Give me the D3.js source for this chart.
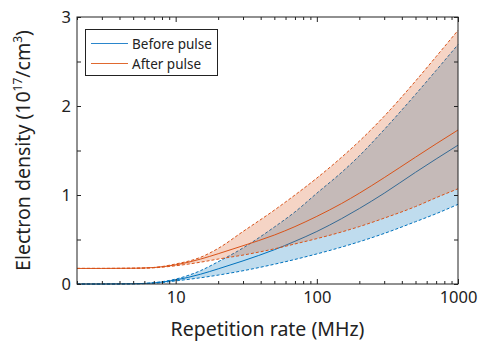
<!DOCTYPE html>
<html>
<head>
<meta charset="utf-8">
<script src="https://cdn.jsdelivr.net/npm/d3@7"></script>
<style>
  body { margin: 0; background: #fff; }
  svg text { font-family: "Noto Sans", "Open Sans", sans-serif; fill: #222; }
</style>
</head>
<body>
<div id="chart"></div>
<script>
// repetition rate (MHz)
const freq = [2, 3, 5, 7, 10, 15, 20, 30, 50, 70, 100, 150, 200, 300, 500, 700, 1000];

// electron density (1e17 / cm^3), before pulse
const beforeMid  = [0, 0, 0.003, 0.012, 0.045, 0.11, 0.17, 0.26, 0.385, 0.48, 0.59, 0.735, 0.848, 1.02, 1.255, 1.405, 1.56];
const beforeHigh = [0, 0, 0.003, 0.015, 0.055, 0.15, 0.25, 0.405, 0.64, 0.81, 1.02, 1.255, 1.44, 1.735, 2.13, 2.40, 2.69];
const beforeLow  = [0, 0, 0.002, 0.008, 0.035, 0.07, 0.10, 0.149, 0.222, 0.276, 0.338, 0.415, 0.475, 0.568, 0.70, 0.79, 0.895];

// after pulse
const afterMid  = [0.175, 0.175, 0.177, 0.185, 0.215, 0.28, 0.34, 0.43, 0.55, 0.645, 0.76, 0.905, 1.02, 1.195, 1.425, 1.575, 1.73];
const afterHigh = [0.175, 0.175, 0.178, 0.186, 0.225, 0.30, 0.40, 0.59, 0.83, 1.0, 1.19, 1.425, 1.605, 1.885, 2.28, 2.555, 2.85];
const afterLow  = [0.175, 0.175, 0.176, 0.182, 0.205, 0.245, 0.28, 0.325, 0.395, 0.45, 0.51, 0.585, 0.645, 0.74, 0.87, 0.97, 1.07];

const xTicks = [10, 100, 1000];
const yTicks = [0, 0.5, 1, 1.5, 2, 2.5, 3];
const yLabels = [0, 1, 2, 3];

const width = 478, height = 342;
const margin = {top: 17, right: 20, bottom: 58, left: 77};
const blue = '#0072BD', orange = '#D95319';

const svg = d3.select('#chart').append('svg')
  .attr('width', width).attr('height', height);

const x = d3.scaleLog().domain([2, 1000]).range([margin.left, width - margin.right]);
const y = d3.scaleLinear().domain([0, 3]).range([height - margin.bottom, margin.top]);

const rows = (a, b) => freq.map((f, i) => [f, a[i], b ? b[i] : 0]);

const line = d3.line().x(d => x(d[0])).y(d => y(d[1])).curve(d3.curveMonotoneX);
const area = d3.area().x(d => x(d[0])).y0(d => y(d[2])).y1(d => y(d[1])).curve(d3.curveMonotoneX);

const plot = svg.append('g');

// before pulse band + lines
plot.append('path').datum(rows(beforeHigh, beforeLow))
  .attr('d', area).attr('fill', blue).attr('fill-opacity', 0.25);
[beforeHigh, beforeLow].forEach(s => {
  plot.append('path').datum(rows(s)).attr('d', line)
    .attr('fill', 'none').attr('stroke', blue).attr('stroke-width', 1)
    .attr('stroke-dasharray', '3,2');
});
plot.append('path').datum(rows(beforeMid)).attr('d', line)
  .attr('fill', 'none').attr('stroke', blue).attr('stroke-width', 1);

// after pulse band + lines
plot.append('path').datum(rows(afterHigh, afterLow))
  .attr('d', area).attr('fill', orange).attr('fill-opacity', 0.25);
[afterHigh, afterLow].forEach(s => {
  plot.append('path').datum(rows(s)).attr('d', line)
    .attr('fill', 'none').attr('stroke', orange).attr('stroke-width', 1)
    .attr('stroke-dasharray', '3,2');
});
plot.append('path').datum(rows(afterMid)).attr('d', line)
  .attr('fill', 'none').attr('stroke', orange).attr('stroke-width', 1);

// axes, ticks pointing inward
const x0 = margin.left, x1 = width - margin.right;
const y0 = height - margin.bottom, y1 = margin.top;

const minorX = x.ticks().filter(t => !xTicks.includes(t));

svg.append('g').attr('transform', `translate(0,${y0})`)
  .call(d3.axisBottom(x).tickValues(xTicks).tickFormat(d3.format('d')).tickSize(-5).tickPadding(7))
  .call(g => g.selectAll('.tick text').attr('font-size', 16.5).attr('fill', '#222'));
svg.append('g').attr('transform', `translate(0,${y0})`)
  .call(d3.axisBottom(x).tickValues(minorX).tickFormat('').tickSize(-3));
svg.append('g').attr('transform', `translate(0,${y1})`)
  .call(d3.axisTop(x).tickValues(xTicks).tickFormat('').tickSize(-5));
svg.append('g').attr('transform', `translate(0,${y1})`)
  .call(d3.axisTop(x).tickValues(minorX).tickFormat('').tickSize(-3));

svg.append('g').attr('transform', `translate(${x0},0)`)
  .call(d3.axisLeft(y).tickValues(yTicks).tickSize(-4).tickPadding(6)
    .tickFormat(d => yLabels.includes(d) ? d : ''))
  .call(g => g.selectAll('.tick text').attr('font-size', 16.5).attr('fill', '#222'));
svg.append('g').attr('transform', `translate(${x1},0)`)
  .call(d3.axisRight(y).tickValues(yTicks).tickSize(-4).tickFormat(''));

svg.selectAll('.domain').remove();
svg.selectAll('.tick line').attr('stroke', '#222');

svg.append('rect')
  .attr('x', x0).attr('y', y1).attr('width', x1 - x0).attr('height', y0 - y1)
  .attr('fill', 'none').attr('stroke', '#222').attr('stroke-width', 1);

// axis titles
svg.append('text')
  .attr('x', (x0 + x1) / 2).attr('y', 336)
  .attr('text-anchor', 'middle').attr('font-size', 19.5)
  .text('Repetition rate (MHz)');

const yt = svg.append('text')
  .attr('transform', `translate(30,${(y0 + y1) / 2}) rotate(-90)`)
  .attr('text-anchor', 'middle').attr('font-size', 19.5);
yt.append('tspan').text('Electron density (10');
yt.append('tspan').attr('font-size', 12).attr('dy', -8).text('17');
yt.append('tspan').attr('dy', 8).text('/cm');
yt.append('tspan').attr('font-size', 12).attr('dy', -8).text('3');
yt.append('tspan').attr('dy', 8).text(')');

// legend
const legend = svg.append('g');
legend.append('rect')
  .attr('x', 85.5).attr('y', 29.5).attr('width', 132).attr('height', 46)
  .attr('fill', '#fff').attr('stroke', '#222').attr('stroke-width', 1);
const items = [['Before pulse', '#2a86cc'], ['After pulse', '#e0692f']];
items.forEach(([label, c], i) => {
  const yy = 43.5 + i * 20;
  legend.append('line')
    .attr('x1', 91).attr('x2', 128).attr('y1', yy).attr('y2', yy)
    .attr('stroke', c).attr('stroke-width', 1);
  legend.append('text')
    .attr('x', 132).attr('y', yy + 5).attr('font-size', 13.5)
    .text(label);
});
</script>
</body>
</html>
